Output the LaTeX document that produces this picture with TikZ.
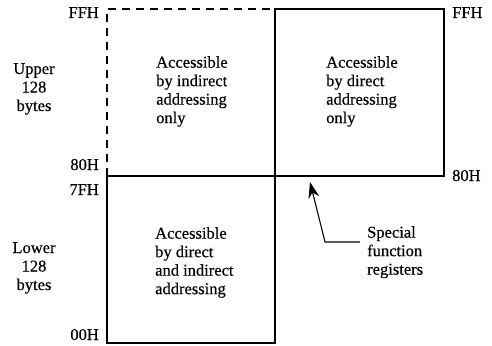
\documentclass[tikz,border=0pt]{standalone}
\usepackage{fontspec}
\setmainfont[FakeBold=0.4]{Liberation Serif}
\usetikzlibrary{arrows.meta}
\begin{document}
\begin{tikzpicture}[x=1pt,y=-1pt,
  txt/.style={inner sep=0pt,font=\fontsize{16.5}{18.5}\selectfont},
  lbl/.style={txt,align=left,anchor=north west},
  side/.style={txt,align=center,anchor=north},
  addr/.style={txt},
  solidline/.style={line width=1.4pt},
  dashline/.style={line width=1.4pt,dash pattern=on 8pt off 6pt},
  arrowline/.style={line width=1.1pt,-{Stealth[length=16pt,width=11pt]}}]
\useasboundingbox (0,0) rectangle (492,345);
% corners
\coordinate (tl) at (107,9);
\coordinate (tm) at (275,9);
\coordinate (tr) at (444,9);
\coordinate (ml) at (107,176);
\coordinate (mm) at (275,176);
\coordinate (mr) at (444,176);
\coordinate (bl) at (107,343);
\coordinate (bm) at (275,343);
% regions
\draw[dashline] (ml) -- (tl) -- (tm);
\draw[solidline] (tm) -- (tr) -- (mr) -- (mm) -- cycle;
\draw[solidline] (ml) -- (mm) -- (bm) -- (bl) -- cycle;
% texts in regions
\node[lbl] (upl) at (156,56) {Accessible\\by indirect\\addressing\\only};
\node[lbl] (upr) at (326,56) {Accessible\\by direct\\addressing\\only};
\node[lbl] (low) at (155,227) {Accessible\\by direct\\and indirect\\addressing};
% side labels
\node[side] (upper) at (34,63) {Upper\\128\\bytes};
\node[side] (lower) at (34,242) {Lower\\128\\bytes};
% addresses
\node[addr,anchor=base east] (ffhl) at (99,18) {FFH};
\node[addr,anchor=base east] (h80l) at (99,170) {80H};
\node[addr,anchor=base east] (h7f) at (99,195) {7FH};
\node[addr,anchor=base east] (h00) at (99,340) {00H};
\node[addr,anchor=base west] (ffhr) at (452,18) {FFH};
\node[addr,anchor=base west] (h80r) at (452,181) {80H};
% special function registers
\node[lbl] (sfr) at (367,226) {Special\\function\\registers};
\coordinate (lineend) at (360,242);
\coordinate (elbow) at (325,242);
\coordinate (tip) at (310,182);
\draw[arrowline] (lineend) -- (elbow) -- (tip);
\end{tikzpicture}
\end{document}
